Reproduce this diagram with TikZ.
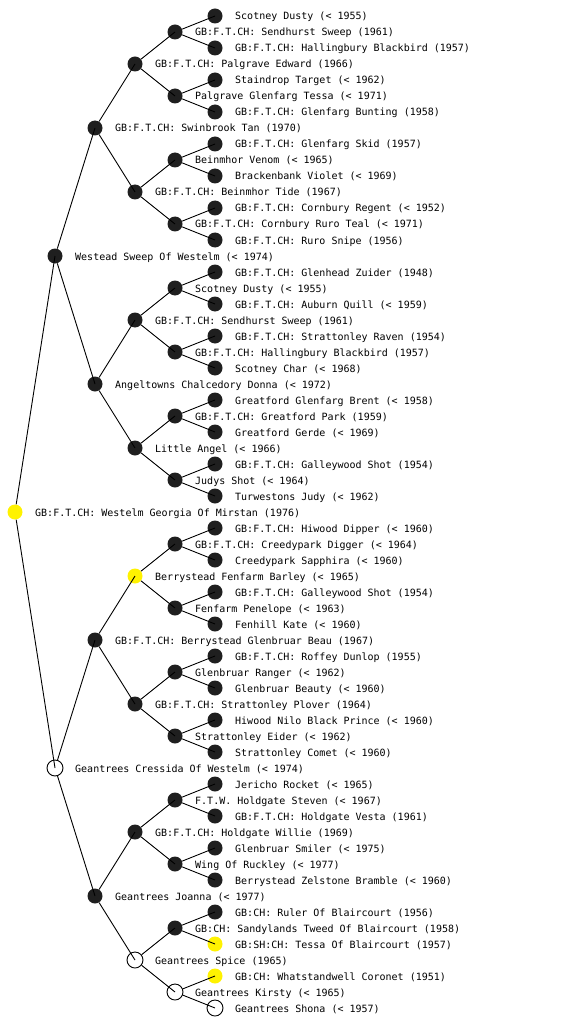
\documentclass[tikz,border=0pt]{standalone}
\usepackage{fontspec}
\setmonofont{DejaVu Sans Mono}
\usepackage{tikz}
\usepackage{xcolor}
\tikzset{
    dog/.style={circle, minimum size=15pt, inner sep=0pt},
    blk/.style={fill=black!88},
    ylw/.style={fill=yellow},
    wht/.style={draw=black, line width=0.9pt, fill=white, minimum size=16pt},
    dogLabel/.style={anchor=base west, inner sep=0pt, font=\ttfamily\fontsize{10}{12}\selectfont},
    pedLine/.style={line width=0.9pt}
}
\newcommand{\pedDog}[4]{%
    \node[dog, #3] (d#1) at (#2, 16*#1) {};
    \node[dogLabel] (l#1) at (#2+20, 16*#1+4) {#4};
}
\begin{document}
\begin{tikzpicture}[x=1pt, y=-1pt]
    \useasboundingbox (0,0) rectangle (560,1024);
    \foreach \k/\x/\col/\t in {
        1/215/blk/Scotney Dusty (< 1955),
        2/175/blk/GB:F.T.CH: Sendhurst Sweep (1961),
        3/215/blk/GB:F.T.CH: Hallingbury Blackbird (1957),
        4/135/blk/GB:F.T.CH: Palgrave Edward (1966),
        5/215/blk/Staindrop Target (< 1962),
        6/175/blk/Palgrave Glenfarg Tessa (< 1971),
        7/215/blk/GB:F.T.CH: Glenfarg Bunting (1958),
        8/95/blk/GB:F.T.CH: Swinbrook Tan (1970),
        9/215/blk/GB:F.T.CH: Glenfarg Skid (1957),
        10/175/blk/Beinmhor Venom (< 1965),
        11/215/blk/Brackenbank Violet (< 1969),
        12/135/blk/GB:F.T.CH: Beinmhor Tide (1967),
        13/215/blk/GB:F.T.CH: Cornbury Regent (< 1952),
        14/175/blk/GB:F.T.CH: Cornbury Ruro Teal (< 1971),
        15/215/blk/GB:F.T.CH: Ruro Snipe (1956),
        16/55/blk/Westead Sweep Of Westelm (< 1974),
        17/215/blk/GB:F.T.CH: Glenhead Zuider (1948),
        18/175/blk/Scotney Dusty (< 1955),
        19/215/blk/GB:F.T.CH: Auburn Quill (< 1959),
        20/135/blk/GB:F.T.CH: Sendhurst Sweep (1961),
        21/215/blk/GB:F.T.CH: Strattonley Raven (1954),
        22/175/blk/GB:F.T.CH: Hallingbury Blackbird (1957),
        23/215/blk/Scotney Char (< 1968),
        24/95/blk/Angeltowns Chalcedory Donna (< 1972),
        25/215/blk/Greatford Glenfarg Brent (< 1958),
        26/175/blk/GB:F.T.CH: Greatford Park (1959),
        27/215/blk/Greatford Gerde (< 1969),
        28/135/blk/Little Angel (< 1966),
        29/215/blk/GB:F.T.CH: Galleywood Shot (1954),
        30/175/blk/Judys Shot (< 1964),
        31/215/blk/Turwestons Judy (< 1962),
        32/15/ylw/GB:F.T.CH: Westelm Georgia Of Mirstan (1976),
        33/215/blk/GB:F.T.CH: Hiwood Dipper (< 1960),
        34/175/blk/GB:F.T.CH: Creedypark Digger (< 1964),
        35/215/blk/Creedypark Sapphira (< 1960),
        36/135/ylw/Berrystead Fenfarm Barley (< 1965),
        37/215/blk/GB:F.T.CH: Galleywood Shot (1954),
        38/175/blk/Fenfarm Penelope (< 1963),
        39/215/blk/Fenhill Kate (< 1960),
        40/95/blk/GB:F.T.CH: Berrystead Glenbruar Beau (1967),
        41/215/blk/GB:F.T.CH: Roffey Dunlop (1955),
        42/175/blk/Glenbruar Ranger (< 1962),
        43/215/blk/Glenbruar Beauty (< 1960),
        44/135/blk/GB:F.T.CH: Strattonley Plover (1964),
        45/215/blk/Hiwood Nilo Black Prince (< 1960),
        46/175/blk/Strattonley Eider (< 1962),
        47/215/blk/Strattonley Comet (< 1960),
        48/55/wht/Geantrees Cressida Of Westelm (< 1974),
        49/215/blk/Jericho Rocket (< 1965),
        50/175/blk/F.T.W. Holdgate Steven (< 1967),
        51/215/blk/GB:F.T.CH: Holdgate Vesta (1961),
        52/135/blk/GB:F.T.CH: Holdgate Willie (1969),
        53/215/blk/Glenbruar Smiler (< 1975),
        54/175/blk/Wing Of Ruckley (< 1977),
        55/215/blk/Berrystead Zelstone Bramble (< 1960),
        56/95/blk/Geantrees Joanna (< 1977),
        57/215/blk/GB:CH: Ruler Of Blaircourt (1956),
        58/175/blk/GB:CH: Sandylands Tweed Of Blaircourt (1958),
        59/215/ylw/GB:SH:CH: Tessa Of Blaircourt (1957),
        60/135/wht/Geantrees Spice (1965),
        61/215/ylw/GB:CH: Whatstandwell Coronet (1951),
        62/175/wht/Geantrees Kirsty (< 1965),
        63/215/wht/Geantrees Shona (< 1957)} {
        \pedDog{\k}{\x}{\col}{\t}
    }
    % parent -> sire and dam
    \foreach \s/\ps in {16/{32}, 8/{16,48}, 4/{8,24,40,56}, 2/{4,12,...,60}, 1/{2,6,...,62}} {
        \foreach \p in \ps {
            \pgfmathtruncatemacro\lo{\p-\s}
            \pgfmathtruncatemacro\hi{\p+\s}
            \draw[pedLine] (d\p) -- (d\lo.center);
            \draw[pedLine] (d\p) -- (d\hi.center);
        }
    }
\end{tikzpicture}
\end{document}
